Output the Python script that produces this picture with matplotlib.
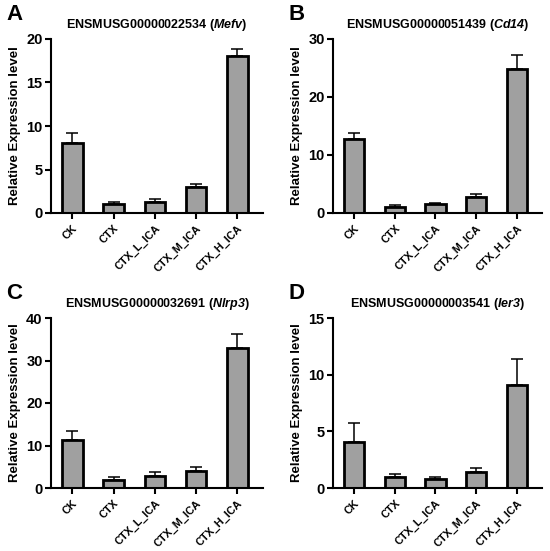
import matplotlib
matplotlib.use("Agg")
import matplotlib.pyplot as plt
import matplotlib.transforms as mtrans
import numpy as np

plt.rcParams['font.family'] = ['Liberation Sans', 'DejaVu Sans']
plt.rcParams['font.weight'] = 'bold'
plt.rcParams['mathtext.fontset'] = 'custom'
plt.rcParams['mathtext.rm'] = 'Liberation Sans:bold'
plt.rcParams['mathtext.bfit'] = 'Liberation Sans:bold:italic'
plt.rcParams['mathtext.it'] = 'Liberation Sans:bold:italic'

groups = ["CK", "CTX", "CTX_L_ICA", "CTX_M_ICA", "CTX_H_ICA"]

mefv_mean = [8.0, 1.0, 1.3, 2.95, 18.0]
mefv_err = [1.2, 0.25, 0.3, 0.4, 0.8]

cd14_mean = [12.7, 1.1, 1.6, 2.7, 24.8]
cd14_err = [1.1, 0.2, 0.2, 0.5, 2.5]

nlrp3_mean = [11.3, 1.8, 2.9, 4.1, 33.0]
nlrp3_err = [2.1, 0.7, 0.8, 0.9, 3.2]

ier3_mean = [4.1, 1.0, 0.8, 1.4, 9.1]
ier3_err = [1.6, 0.2, 0.2, 0.35, 2.3]

panels = [
    ("A", "ENSMUSG00000022534", "Mefv", mefv_mean, mefv_err, 20, 5),
    ("B", "ENSMUSG00000051439", "Cd14", cd14_mean, cd14_err, 30, 10),
    ("C", "ENSMUSG00000032691", "Nlrp3", nlrp3_mean, nlrp3_err, 40, 10),
    ("D", "ENSMUSG00000003541", "Ier3", ier3_mean, ier3_err, 15, 5),
]

W, H = 550, 551
fig = plt.figure(figsize=(5.5, 5.51), dpi=100)

# axes boxes in pixels: left, top, right, bottom
boxes = [
    (51, 39, 263, 213),
    (333, 39, 542, 213),
    (51, 318, 263, 488),
    (333, 318, 542, 488),
]

shift = mtrans.ScaledTranslation(4 / 100, -2 / 100, fig.dpi_scale_trans)

for (letter, gid, gene, mean, err, ymax, step), (l, t, r, b) in zip(panels, boxes):
    ax = fig.add_axes([l / W, 1 - b / H, (r - l) / W, (b - t) / H])
    x = np.arange(len(groups))
    ax.bar(x, mean, width=0.5, color="#a0a0a0", edgecolor="black", linewidth=2.0, zorder=2)
    ax.errorbar(x, mean, yerr=[np.zeros(len(mean)), err], fmt="none", ecolor="black",
                elinewidth=1.1, capsize=4.5, capthick=1.1, zorder=1)
    ax.set_xlim(-0.52, 4.62)
    ax.set_ylim(0, ymax)
    ax.set_yticks(np.arange(0, ymax + 0.1, step))
    ax.set_xticks(x)
    ax.set_xticklabels(groups, rotation=45, ha="right", rotation_mode="anchor", fontsize=7.8, fontweight="bold")
    for lab in ax.get_xticklabels():
        lab.set_transform(lab.get_transform() + shift)
    ax.tick_params(axis="y", labelsize=10.5, width=1.5, length=4, pad=2)
    ax.tick_params(axis="x", width=1.5, length=4)
    for lab in ax.get_yticklabels():
        lab.set_fontweight("bold")
    ax.spines["top"].set_visible(False)
    ax.spines["right"].set_visible(False)
    ax.spines["left"].set_linewidth(1.5)
    ax.spines["bottom"].set_linewidth(1.5)
    ax.set_ylabel("Relative Expression level", fontsize=9.5, fontweight="bold", labelpad=4)
    ax.set_title(gid + r" ($\mathbfit{" + gene + r"}$)", fontsize=9, fontweight="bold", pad=8)
    fig.text((l - 45) / W, 1 - (t - 35) / H, letter, fontsize=16, fontweight="bold", va="top")

fig.savefig("out.png", dpi=100, facecolor="white")
